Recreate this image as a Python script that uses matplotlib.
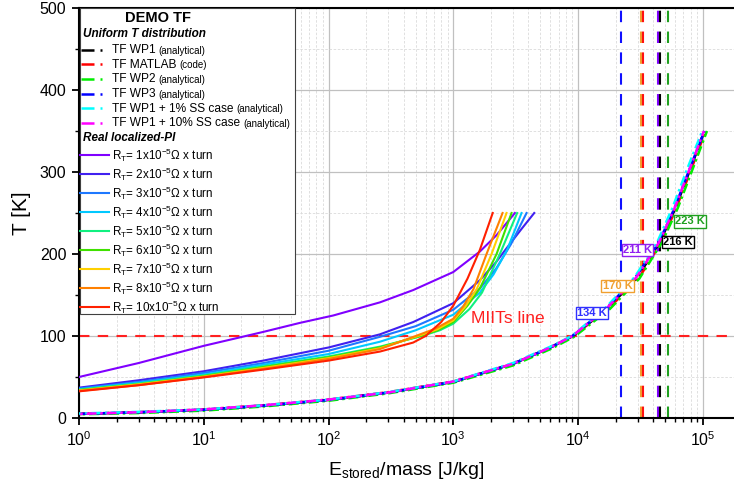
import matplotlib.pyplot as plt
from matplotlib.lines import Line2D
from matplotlib.patches import Rectangle
from matplotlib.ticker import MultipleLocator

plt.rcParams['font.family'] = ['Liberation Sans', 'DejaVu Sans']
plt.rcParams['mathtext.fontset'] = 'custom'
plt.rcParams['mathtext.rm'] = 'Liberation Sans'
plt.rcParams['mathtext.it'] = 'Liberation Sans:italic'
plt.rcParams['mathtext.bf'] = 'Liberation Sans:bold'

# --- Uniform T distribution (analytical / code) ---
E_wp1 = [1, 3, 10, 30, 100, 300, 1000, 3000, 6000, 9100, 17400, 30000, 45000, 60000, 80000, 103000]
T_wp1 = [5, 7, 10, 15, 22, 31, 44, 66, 86, 100, 134, 172, 214, 255, 305, 350]
E_matlab = [1, 3, 10, 30, 100, 300, 1000, 3000, 6000, 9100, 17400, 30500, 45500, 60500, 81000, 104000]
T_matlab = [5, 7, 10.5, 15.5, 22.5, 31.5, 44.5, 66, 86, 100, 133, 170, 212, 254, 304, 348]
E_wp2 = [1, 3, 10, 30, 100, 300, 1000, 3000, 6000, 9300, 18000, 31000, 47000, 63000, 84000, 108000]
T_wp2 = [4.5, 6, 9, 14, 21, 30, 43, 64, 84, 99, 133, 170, 214, 256, 306, 350]
E_wp3 = [1, 3, 10, 30, 100, 300, 1000, 3000, 6000, 9000, 17000, 29000, 44000, 59000, 79000, 103000]
T_wp3 = [5, 7, 10, 15, 22, 31, 44, 66, 86, 100, 134, 172, 213, 255, 305, 350]
E_ss1 = [1, 3, 10, 30, 100, 300, 1000, 3000, 6000, 8900, 16500, 28500, 43000, 57000, 76000, 99000]
T_ss1 = [5.5, 7.5, 10.5, 15.5, 22.5, 31.5, 44.5, 67, 87, 100, 134, 172, 214, 256, 306, 350]
E_ss10 = [1, 3, 10, 30, 100, 300, 1000, 3000, 6000, 9000, 17000, 29500, 44500, 59000, 79000, 102000]
T_ss10 = [5, 7, 10.5, 15.5, 22.5, 31, 44.5, 66, 86, 100, 134, 172, 214, 255, 305, 350]

uni_E = [E_wp1, E_matlab, E_wp2, E_wp3, E_ss1, E_ss10]
uni_T = [T_wp1, T_matlab, T_wp2, T_wp3, T_ss1, T_ss10]
uni_names = ['TF WP1', 'TF MATLAB', 'TF WP2', 'TF WP3', 'TF WP1 + 1% SS case', 'TF WP1 + 10% SS case']
uni_notes = ['(analytical)', '(code)', '(analytical)', '(analytical)', '(analytical)', '(analytical)']
uni_colors = ['black', '#ff0000', '#00ee00', '#0000ff', '#00ffff', '#ff00ff']

# --- Real localized-PI ---
rt_factor = [1, 2, 3, 4, 5, 6, 7, 8, 10]
E_r1 = [1, 3, 10, 30, 59, 109, 258, 477, 1000, 1633, 2223, 3118]
T_r1 = [50, 67, 88, 105, 116, 125, 141, 156, 178, 203, 223, 250]
E_r2 = [1, 3, 10, 30, 100, 258, 477, 1000, 1633, 2200, 2673, 3500, 4454]
T_r2 = [37, 46, 57, 70, 86, 102, 117, 140, 168, 190, 207, 230, 250]
E_r3 = [1, 3, 10, 30, 100, 258, 500, 1000, 1633, 2200, 2900, 3866]
T_r3 = [36, 44, 55, 67, 82, 99, 112, 132, 158, 182, 212, 250]
E_r4 = [1, 3, 10, 30, 100, 258, 500, 1000, 1633, 2100, 2700, 3524]
T_r4 = [35, 43, 53, 65, 78, 93, 107, 126, 153, 175, 205, 250]
E_r5 = [1, 3, 10, 30, 100, 258, 560, 780, 1000, 1350, 1700, 2362, 3250]
T_r5 = [34.5, 42, 52, 63, 75, 87, 100, 107, 115, 133, 153, 200, 250]
E_r6 = [1, 3, 10, 30, 100, 258, 540, 750, 1000, 1300, 1633, 2223, 2930]
T_r6 = [34, 41, 51, 62, 74, 86, 100, 107, 117, 137, 158, 200, 250]
E_r7 = [1, 3, 10, 30, 100, 258, 520, 740, 1000, 1250, 1550, 2027, 2673]
T_r7 = [33.5, 41, 50.5, 61, 73, 85, 100, 108, 119, 136, 158, 200, 250]
E_r8 = [1, 3, 10, 30, 100, 258, 500, 720, 1000, 1200, 1450, 1848, 2483]
T_r8 = [33, 40, 50, 60, 72, 84, 100, 109, 121, 136, 157, 200, 250]
E_r10 = [1, 3, 10, 30, 100, 258, 477, 600, 800, 1000, 1300, 1633, 2070]
T_r10 = [32.5, 40, 49.5, 59, 70, 81, 92, 100, 117, 137, 170, 205, 250]
rt_E = [E_r1, E_r2, E_r3, E_r4, E_r5, E_r6, E_r7, E_r8, E_r10]
rt_T = [T_r1, T_r2, T_r3, T_r4, T_r5, T_r6, T_r7, T_r8, T_r10]
rt_colors = ['#8000ff', '#4020f0', '#1e78ff', '#00c8ff', '#10f080', '#40e000', '#ffd000', '#ff8000', '#ff2000']

# --- MIITs ---
T_miits = 100
E_vlines = [21900, 31800, 33000, 43900, 45200, 52500]
vline_colors = ['#1010ff', '#f0a030', '#ff1010', '#8000ff', '#000000', '#20a020']
note_text = ['134 K', '170 K', '211 K', '216 K', '223 K']
note_E = [12900, 20700, 30000, 63300, 79000]
note_T = [128, 161, 205, 214.6, 240]
note_colors = ['#3030ff', '#f0a030', '#9020f0', '#000000', '#20a020']

fig = plt.figure(figsize=(7.34, 4.94), dpi=100)
ax = fig.add_axes([79/734, 76/494, 655/734, 410/494])

ax.axhline(T_miits, color='#ff2020', lw=1.5, linestyle=(0, (5, 4)), zorder=2)
for E, c in zip(E_vlines, vline_colors):
    ax.axvline(E, color=c, lw=1.5, linestyle=(0, (5.5, 4.5)), zorder=2)

offs = [0, 2, 4, 1, 3, 5]
for E, T, c, o in zip(uni_E, uni_T, uni_colors, offs):
    ax.plot(E, T, color=c, lw=1.8, linestyle=(o, (4, 1.5, 1, 1.5)), zorder=3)

for E, T, c in zip(rt_E, rt_T, rt_colors):
    ax.plot(E, T, color=c, lw=1.5, zorder=4)

ax.text(2740, 121, 'MIITs line', color='#ff2020', fontsize=12.5, ha='center', va='center', zorder=5)
for s, E, T, c in zip(note_text, note_E, note_T, note_colors):
    ax.text(E, T, s, color=c, fontsize=8, fontweight='bold', ha='center', va='center', zorder=6,
            bbox=dict(boxstyle='square,pad=0.12', fc='white', ec=c, lw=1))

ax.set_xscale('log')
ax.set_xlim(1, 10**5.25)
ax.set_ylim(0, 500)
ax.yaxis.set_major_locator(MultipleLocator(100))
ax.yaxis.set_minor_locator(MultipleLocator(50))
ax.set_axisbelow(True)
ax.grid(True, which='major', color='#c0c0c0', lw=0.9)
ax.grid(True, which='minor', color='#dadada', lw=0.6, linestyle=(0, (3, 2)))
ax.tick_params(which='major', labelsize=11.5, length=5, width=1.3, pad=4)
ax.tick_params(which='minor', length=3, width=1)
ax.spines['right'].set_visible(False)
for s in ['left', 'bottom', 'top']:
    ax.spines[s].set_linewidth(1.5)

ax.set_xlabel(r'E$_\mathregular{stored}$/mass [J/kg]', fontsize=14, labelpad=8)
ax.set_ylabel('T [K]', fontsize=15, labelpad=6)


# legend built by hand (mixed font sizes)
def pos(px, py):
    return ((px - 79) / 655, (418 - py) / 410)


tr = ax.transAxes
x0, y0 = pos(80, 314)
ax.add_patch(Rectangle((x0, y0), 215/655, 306/410, transform=tr, fc='white', ec='#404040', lw=0.8, zorder=10))
ax.text(*pos(158, 18), 'DEMO TF', transform=tr, fontsize=10.5, fontweight='bold', ha='center', va='center', zorder=11)
ax.text(*pos(83, 34), 'Uniform T distribution', transform=tr, fontsize=8.5, fontweight='bold',
        fontstyle='italic', va='center', zorder=11)
uni_rows = [50, 64.5, 79, 94, 108.5, 123]
for y, name, note, c in zip(uni_rows, uni_names, uni_notes, uni_colors):
    ax.add_line(Line2D([pos(81, y)[0], pos(102, y)[0]], [pos(81, y)[1]] * 2, transform=tr, color=c,
                       lw=1.8, linestyle=(0, (5.2, 2.4, 1.2, 2.4)), zorder=11))
    t = ax.text(*pos(112, y), name, transform=tr, fontsize=8.6, va='center', zorder=11)
    ax.annotate(note, xy=(1, 0), xycoords=t, xytext=(2, 0), textcoords='offset points',
                fontsize=7, va='bottom', zorder=11)
ax.text(*pos(83, 138), 'Real localized-PI', transform=tr, fontsize=8.5, fontweight='bold',
        fontstyle='italic', va='center', zorder=11)
rt_rows = [155, 174, 193, 212, 231, 250, 269, 288, 307]
for y, k, c in zip(rt_rows, rt_factor, rt_colors):
    ax.add_line(Line2D([pos(80, y)[0], pos(109, y)[0]], [pos(80, y)[1]] * 2, transform=tr, color=c,
                       lw=1.5, zorder=11))
    ax.text(*pos(112, y), r'R$_\mathregular{T}$= %dx10$^\mathregular{-5}$Ω x turn' % k, transform=tr,
            fontsize=8.4, va='center', zorder=11)

fig.savefig('out.png', dpi=100)
